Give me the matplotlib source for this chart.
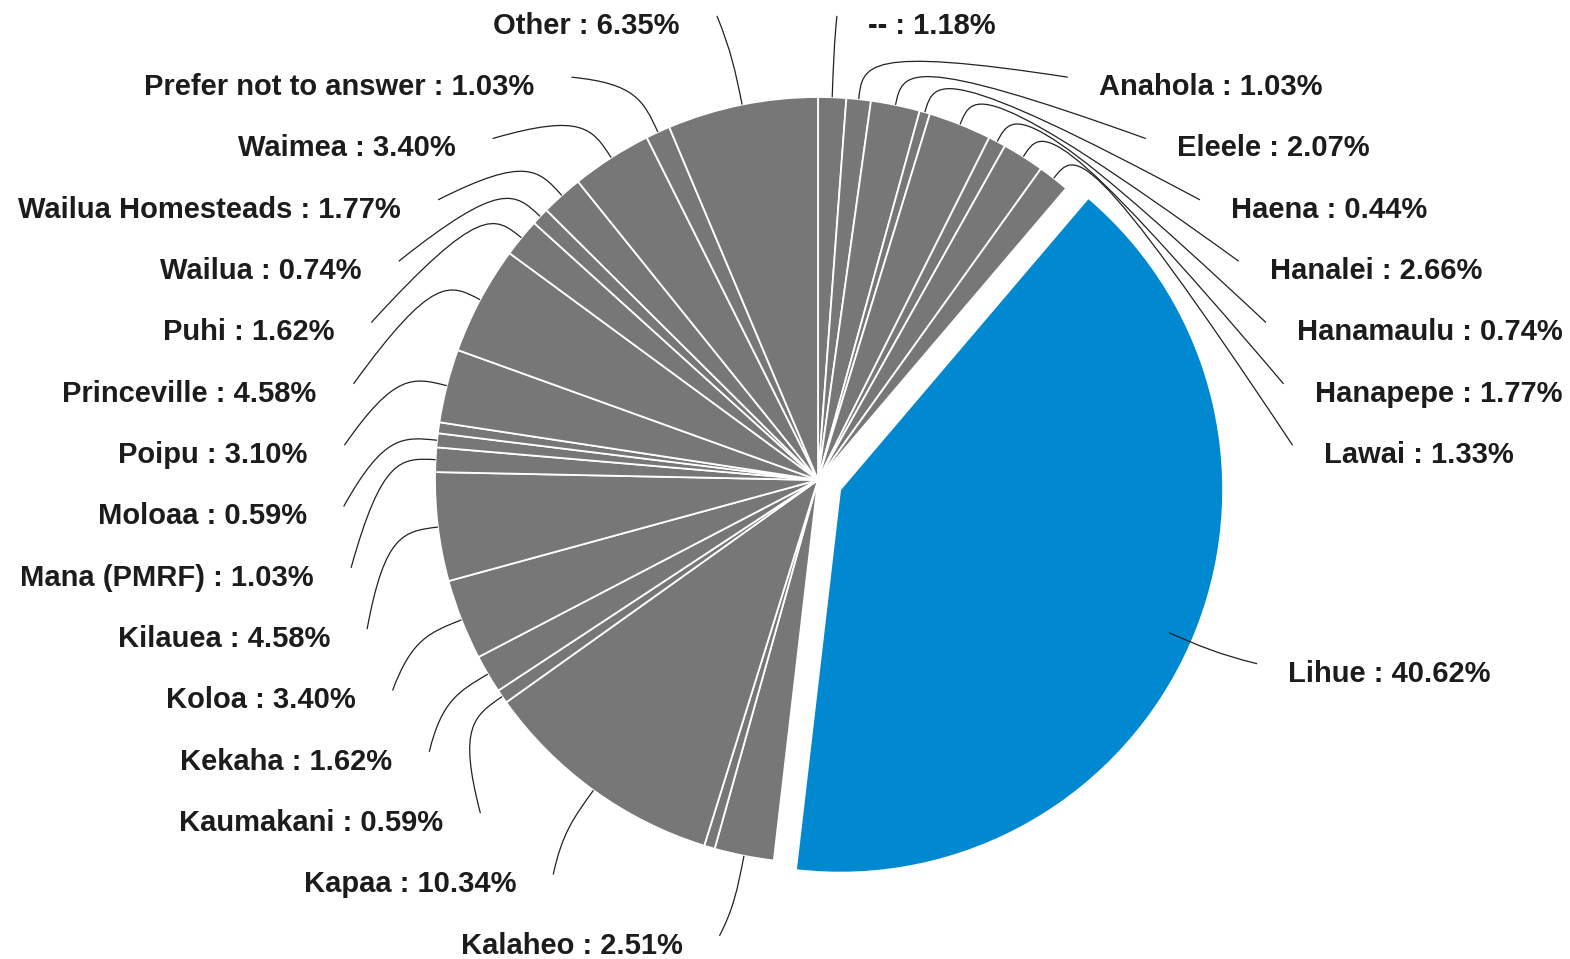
import matplotlib
matplotlib.use('Agg')
import matplotlib.pyplot as plt
from matplotlib.path import Path
from matplotlib.patches import PathPatch
import numpy as np

# slices, clockwise from 12 o'clock ('' = slice without a label)
names = ['--', 'Anahola', 'Eleele', 'Haena', 'Hanalei', 'Hanamaulu', 'Hanapepe', 'Lawai',
         'Lihue', 'Kalaheo', '', 'Kapaa', 'Kaumakani', 'Kekaha', 'Koloa', 'Kilauea',
         'Mana (PMRF)', 'Moloaa', '', 'Poipu', 'Princeville', 'Puhi', 'Wailua',
         'Wailua Homesteads', 'Waimea', 'Prefer not to answer', 'Other']
shares = [1.18, 1.03, 2.07, 0.44, 2.66, 0.74, 1.77, 1.33,
          40.62, 2.51, 0.45, 10.34, 0.59, 1.62, 3.40, 4.58,
          1.03, 0.59, 0.46, 3.10, 4.58, 1.62, 0.74,
          1.77, 3.40, 1.03, 6.35]
highlight = 'Lihue'

GRAY = '#777777'
BLUE = '#0089d1'

# layout in pixels of the 1570x959 canvas
W, H = 1570, 959
R_PX = 383.0
CX, CY = 818, 480

fig = plt.figure(figsize=(W / 100, H / 100), dpi=100)
ax = fig.add_axes([0, 0, 1, 1])

colors = [BLUE if n == highlight else GRAY for n in names]
explode = [0.063 if n == highlight else 0 for n in names]
ax.pie(shares, colors=colors, explode=explode, startangle=90, counterclock=False,
       wedgeprops=dict(edgecolor='white', linewidth=1.3))
ax.set_xlim(-CX / R_PX, (W - CX) / R_PX)
ax.set_ylim(-(H - CY) / R_PX, CY / R_PX)
ax.axis('off')

# label placement: stacked rows, x taken from an ellipse round the pie
vals = np.array(shares)
ends = np.cumsum(vals) / vals.sum() * 360
mids = ends - vals / vals.sum() * 360 / 2

Ry = 476 / R_PX                 # for the natural row of each label
ex_dy = 8 / R_PX                # ellipse for the label x is a bit lower
ex_ry = 486 / R_PX
ex_rx = {'left': 512 / R_PX, 'right': 507 / R_PX}
gaps = {'left': 37 / R_PX, 'right': 31 / R_PX}
step = 61.33 / R_PX
y_top, y_bot = (CY - 22) / R_PX, -(942 - CY) / R_PX

for side in ('left', 'right'):
    idx = [i for i, n in enumerate(names) if n and ((mids[i] > 180) == (side == 'left'))]
    nat = {i: Ry * np.cos(np.radians(mids[i])) for i in idx}
    idx.sort(key=lambda i: -nat[i])
    ys = []
    for k, i in enumerate(idx):
        y = min(nat[i], y_top) if k == 0 else min(nat[i], ys[-1] - step)
        ys.append(y)
    if ys[-1] < y_bot:
        ys[-1] = y_bot
        for k in range(len(ys) - 2, -1, -1):
            ys[k] = max(ys[k], ys[k + 1] + step)

    rx, gap = ex_rx[side], gaps[side]
    sgn = -1 if side == 'left' else 1
    for i, y in zip(idx, ys):
        th = np.radians(mids[i])
        edge = rx * np.sqrt(max(0.0, 1 - ((y + ex_dy) / ex_ry) ** 2))
        pinned = (nat[i] > y_top and y >= y_top - 1e-9) or (nat[i] < y_bot and y <= y_bot + 1e-9)
        if pinned:
            edge = min(edge, 510 / R_PX * abs(np.sin(th)) + gap)
        ux, uy = np.sin(th), np.cos(th)
        verts = [(ux, uy), (1.09 * ux, 1.09 * uy), (1.14 * ux, 1.14 * uy),
                 (sgn * (edge - gap), y + 0.016)]
        path = Path(verts, [Path.MOVETO, Path.CURVE4, Path.CURVE4, Path.CURVE4])
        ax.add_patch(PathPatch(path, facecolor='none', edgecolor='#222222', lw=0.9, zorder=5))
        ax.text(sgn * edge, y - 0.01, f'{names[i]} : {shares[i]:.2f}%',
                ha='right' if side == 'left' else 'left', va='center',
                fontsize=21, fontweight='bold', color='#1c1c1c',
                family=['Liberation Sans', 'DejaVu Sans'])

fig.savefig('out.png', dpi=100)
